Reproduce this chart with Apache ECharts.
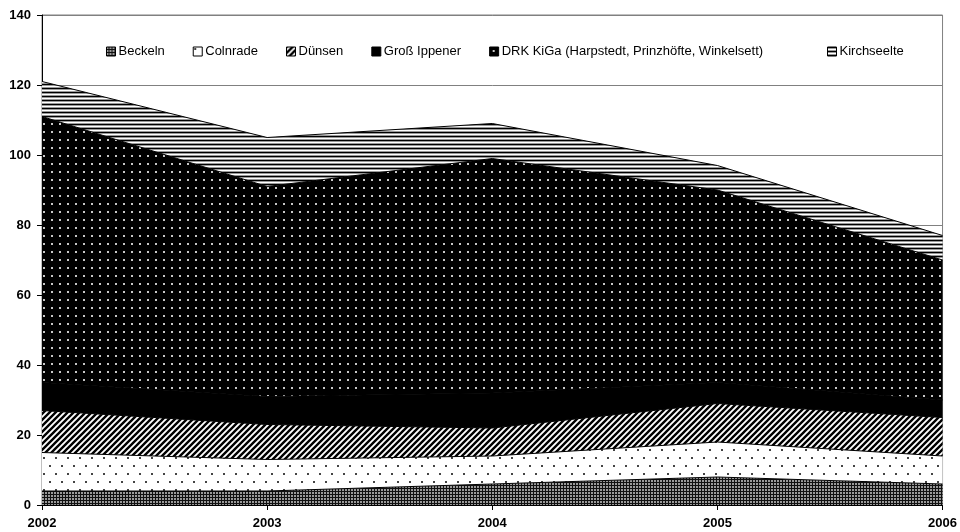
<!DOCTYPE html>
<html>
<head>
<meta charset="utf-8">
<script src="https://cdn.jsdelivr.net/npm/echarts@6/dist/echarts.min.js"></script>
<style>
  html, body { margin: 0; padding: 0; background: #fff; }
  #chart { width: 960px; height: 532px; }
</style>
</head>
<body>
<div id="chart"></div>
<script>
var years = ['2002', '2003', '2004', '2005', '2006'];
var seriesNames = ['Beckeln', 'Colnrade', 'Dünsen', 'Groß Ippener', 'DRK KiGa (Harpstedt, Prinzhöfte, Winkelsett)', 'Kirchseelte'];
var beckeln = [4, 4, 6, 8, 6];
var colnrade = [11, 9, 8, 10, 8];
var duensen = [12, 10, 8, 11, 11];
var grossIppener = [8, 8, 10, 6, 5];
var drkKiga = [76, 60, 67, 55, 40];
var kirchseelte = [10, 14, 10, 7, 7];

// kleine Kachel-Muster wie in Excel
function tile(w, h, draw) {
	var c = document.createElement('canvas');
	c.width = w; c.height = h;
	var ctx = c.getContext('2d');
	draw(ctx, w, h);
	return { image: c, repeat: 'repeat' };
}

var patGrid = tile(3, 3, function(ctx) {
	ctx.fillStyle = '#111'; ctx.fillRect(0, 0, 3, 3);
	ctx.fillStyle = '#9a9a9a'; ctx.fillRect(0, 0, 2, 2);
});
var patWhiteDots = tile(12, 16, function(ctx) {
	ctx.fillStyle = '#fff'; ctx.fillRect(0, 0, 12, 16);
	ctx.fillStyle = '#444';
	ctx.fillRect(1, 1, 2, 2);
	ctx.fillRect(7, 9, 2, 2);
});
var patDiag = tile(6, 6, function(ctx, s) {
	ctx.fillStyle = '#fff'; ctx.fillRect(0, 0, 6, 6);
	ctx.strokeStyle = '#000'; ctx.lineWidth = 2.4;
	ctx.beginPath();
	ctx.moveTo(-1, 7); ctx.lineTo(7, -1);
	ctx.moveTo(-2, 2); ctx.lineTo(2, -2);
	ctx.moveTo(4, 8); ctx.lineTo(8, 4);
	ctx.stroke();
});
var patBlack = '#000';
var patBlackDots = tile(8, 8, function(ctx) {
	ctx.fillStyle = '#000'; ctx.fillRect(0, 0, 8, 8);
	ctx.fillStyle = '#c8c8c8'; ctx.fillRect(3, 3, 2, 2);
});
var patHoriz = tile(4, 4, function(ctx) {
	ctx.fillStyle = '#000'; ctx.fillRect(0, 0, 4, 1);
	ctx.fillStyle = '#999'; ctx.fillRect(0, 1, 4, 1);
	ctx.fillStyle = '#fff'; ctx.fillRect(0, 2, 4, 1);
	ctx.fillStyle = '#999'; ctx.fillRect(0, 3, 4, 1);
});

var values = [beckeln, colnrade, duensen, grossIppener, drkKiga, kirchseelte];
var fills = [patGrid, patWhiteDots, patDiag, patBlack, patBlackDots, patHoriz];

var series = [];
for (var i = 0; i < seriesNames.length; i++) {
	series.push({
		name: seriesNames[i],
		type: 'line',
		stack: 'gesamt',
		data: values[i],
		showSymbol: false,
		symbol: 'none',
		lineStyle: { color: '#000', width: 1 },
		itemStyle: { color: fills[i], borderColor: '#000', borderWidth: 1 },
		areaStyle: { color: fills[i], opacity: 1 },
		emphasis: { disabled: true },
		animation: false
	});
}

var legendBase = {
	orient: 'horizontal',
	top: 40,
	icon: 'rect',
	itemWidth: 9,
	itemHeight: 9,
	itemGap: 28,
	selectedMode: false,
	textStyle: { fontFamily: 'Liberation Sans, Arial, sans-serif', fontSize: 13, color: '#000', padding: [0, 0, 0, -2] },
	itemStyle: { borderColor: '#000', borderWidth: 1 }
};

var option = {
	backgroundColor: '#fff',
	animation: false,
	grid: {
		left: 42, right: 16, top: 15, bottom: 27,
		show: true, borderColor: '#808080', borderWidth: 1, backgroundColor: 'transparent'
	},
	legend: [
		Object.assign({}, legendBase, { left: 101, data: seriesNames.slice(0, 5) }),
		Object.assign({}, legendBase, { left: 822, data: seriesNames.slice(5) })
	],
	xAxis: {
		type: 'category',
		data: years,
		boundaryGap: false,
		axisLine: { lineStyle: { color: '#000', width: 1 } },
		axisTick: { show: true, length: 5, lineStyle: { color: '#000' } },
		axisLabel: {
			margin: 12,
			fontFamily: 'Liberation Sans, Arial, sans-serif',
			fontSize: 13, fontWeight: 'bold', color: '#000'
		},
		splitLine: { show: false }
	},
	yAxis: {
		type: 'value',
		min: 0, max: 140, interval: 20,
		axisLine: { show: true, lineStyle: { color: '#000', width: 1 } },
		axisTick: { show: true, length: 5, lineStyle: { color: '#000' } },
		axisLabel: {
			margin: 11,
			fontFamily: 'Liberation Sans, Arial, sans-serif',
			fontSize: 13, fontWeight: 'bold', color: '#000'
		},
		splitLine: { show: true, lineStyle: { color: '#808080', width: 1 } }
	},
	series: series
};

var myChart = echarts.init(document.getElementById('chart'), null, { renderer: 'canvas' });
myChart.setOption(option);
</script>
</body>
</html>
